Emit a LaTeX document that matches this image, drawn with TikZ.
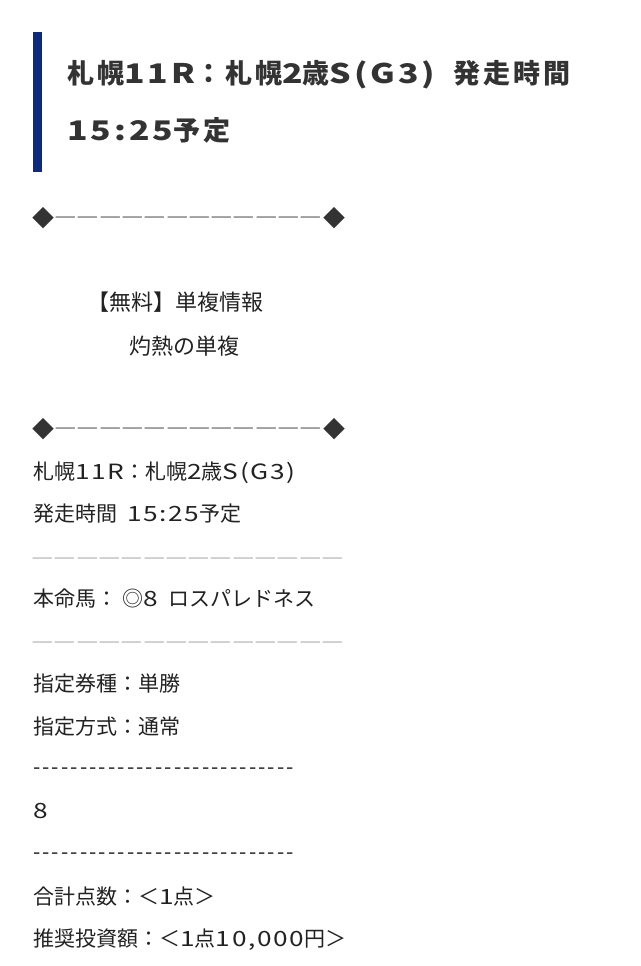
\documentclass[tikz,border=0pt]{standalone}
\usepackage{graphicx}
\usepackage{fontspec}
\newfontfamily\jpbody[Ligatures=TeXOff]{Noto Sans CJK JP}
\newfontfamily\latbody[FakeStretch=1.25,LetterSpace=8,Ligatures=TeXOff]{Noto Sans CJK JP}
\newfontfamily\hyfont[LetterSpace=10,Ligatures=TeXOff]{Noto Sans CJK JP}
\newfontfamily\jptitle[LetterSpace=11,Ligatures=TeXOff]{Noto Sans CJK JP}
\newfontfamily\lattitle[FakeStretch=1.25,LetterSpace=11,Ligatures=TeXOff]{Noto Sans CJK JP}
\newcommand\lb[1]{{\latbody #1}}
\newcommand\lt[1]{{\lattitle\bfseries #1}}
\newlength\gL \newlength\gR \newlength\gW
\newcommand\measureglyph[1]{%
  \gL=\XeTeXglyphbounds1 \XeTeXcharglyph#1\relax
  \gR=\XeTeXglyphbounds3 \XeTeXcharglyph#1\relax
  \gW=\fontcharwd\font#1\relax
  \advance\gW by -\gL \advance\gW by -\gR}
\newcommand\onedash{\kern-\dsc\gL\scalebox{\dsc}[1]{―}\kern-\dsc\gR}
\newcommand\dashrun[2]{\measureglyph{"2015}\pgfmathsetmacro\dsc{19.3/\gW}%
  \foreach \i in {1,...,#1}{\onedash\kern#2}}
\newcommand\dia{{\measureglyph{"25C6}\pgfmathsetmacro\dsd{21.5/\gW}%
  \kern-\dsd\gL\raisebox{-1.8pt}{\scalebox{\dsd}{◆}}\kern-\dsd\gR}}
\definecolor{navy}{HTML}{0B2A80}
\definecolor{ttltxt}{HTML}{333333}
\definecolor{txt}{HTML}{222222}
\definecolor{rulegrey}{HTML}{9A9A9A}
\definecolor{diagrey}{HTML}{333333}
\begin{document}
\begin{tikzpicture}[x=1pt,y=-1pt,
  body/.style={anchor=base west, inner sep=0pt, font=\fontsize{21}{21}\selectfont\jpbody, text=txt},
  mid/.style={anchor=base west, inner sep=0pt, font=\fontsize{22}{22}\selectfont\jpbody, text=txt},
  ttl/.style={anchor=base west, inner sep=0pt, font=\fontsize{27}{27}\selectfont\jptitle\bfseries, text=ttltxt},
  dashline/.style={anchor=base west, inner sep=0pt, font=\fontsize{21}{21}\selectfont\jpbody, text=diagrey},
  greyline/.style={dashline, text=rulegrey},
  hyline/.style={anchor=base west, inner sep=0pt, font=\fontsize{21}{21}\selectfont\hyfont, text=txt}]
\useasboundingbox[fill=white] (0,0) rectangle (640,966);
\fill[navy] (33,32) rectangle (42,172);
\node[ttl] (t1) at (67,84) {札幌\lt{11R}：札幌\lt{2}歳\lt{S(G3)}\hspace*{18pt}発走時間};
\node[ttl] (t2) at (67,140) {\lt{15:25}予定};
\node[dashline] (d1) at (33,225.1) {\dia\kern1.5pt\dashrun{12}{3pt}\dia};
\node[mid] (f1) at (87,310.3) {【無料】単複情報};
\node[mid] (f2) at (129,354.3) {灼熱の単複};
\node[dashline] (d2) at (33,436.1) {\dia\kern1.5pt\dashrun{12}{3pt}\dia};
\node[body] (l1) at (33,479.4) {札幌\lb{11R}：札幌\lb{2}歳\lb{S(G3)}};
\node[body] (l2) at (33,521.9) {発走時間\hspace*{10pt}\lb{15:25}予定};
\node[greyline] (g1) at (33,566) {\dashrun{14}{3pt}};
\node[body] (l3) at (33,606.9) {本命馬：\kern5pt◎\lb{8}\hspace*{11pt}ロスパレドネス};
\node[greyline] (g2) at (33,650) {\dashrun{14}{3pt}};
\node[body] (l4) at (33,691.9) {指定券種：単勝};
\node[body] (l5) at (33,734.4) {指定方式：通常};
\node[hyline] (h1) at (33,774.8) {----------------------------};
\node[body] (l6) at (33,818.2) {\lb{8}};
\node[hyline] (h2) at (33,859.8) {----------------------------};
\node[body] (l7) at (33,904.4) {合計点数：＜\lb{1}点＞};
\node[body] (l8) at (33,946.9) {推奨投資額：＜\lb{1}点\lb{10,000}円＞};
\end{tikzpicture}
\end{document}
